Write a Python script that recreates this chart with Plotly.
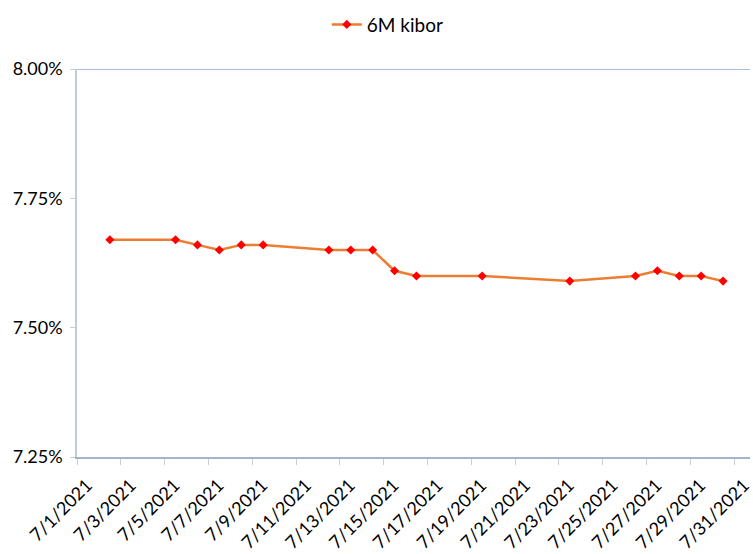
import pandas as pd
import plotly.graph_objects as go

dates = ["2021-07-02", "2021-07-05", "2021-07-06", "2021-07-07", "2021-07-08",
         "2021-07-09", "2021-07-12", "2021-07-13", "2021-07-14", "2021-07-15",
         "2021-07-16", "2021-07-19", "2021-07-23", "2021-07-26", "2021-07-27",
         "2021-07-28", "2021-07-29", "2021-07-30"]
kibor_6m = [7.67, 7.67, 7.66, 7.65, 7.66, 7.66, 7.65, 7.65, 7.65, 7.61,
            7.60, 7.60, 7.59, 7.60, 7.61, 7.60, 7.60, 7.59]
series_name = "6M kibor"
y_ticks = [7.25, 7.50, 7.75, 8.00]
y_tick_labels = ["7.25%", "7.50%", "7.75%", "8.00%"]

# Excel date axis: points sit in the middle of each day slot
x = pd.to_datetime(dates) + pd.Timedelta(hours=12)

fig = go.Figure()
fig.add_trace(go.Scatter(
    x=x, y=kibor_6m, name=series_name, mode="lines+markers",
    line=dict(color="#ED7D31", width=2.5),
    marker=dict(symbol="diamond", size=7, color="#FF0000"),
))

fig.add_shape(type="line", xref="paper", yref="y", x0=0, x1=1, y0=8.0, y1=8.0,
              line=dict(color="#8FAADC", width=1.5))

fig.update_layout(
    width=753, height=554,
    margin=dict(l=77, r=0, t=69, b=97),
    plot_bgcolor="white", paper_bgcolor="white",
    showlegend=True,
    legend=dict(orientation="h", x=0.515, xanchor="center", y=0.99, yanchor="top",
                xref="container", yref="container",
                font=dict(family="Lato", size=19, color="black")),
    font=dict(family="Lato", size=17, color="black"),
)

fig.update_xaxes(
    type="date",
    range=[pd.Timestamp("2021-07-01"), pd.Timestamp("2021-07-31") + pd.Timedelta(hours=17.5)],
    tick0="2021-07-01", dtick=2 * 86400000,
    tickformat="%-m/%-d/%Y", tickangle=-45,
    showgrid=False, showline=True, linecolor="#A5B3CE", linewidth=1.5,
    ticks="outside", ticklen=6, tickcolor="#C8CED8",
    tickfont=dict(size=18), zeroline=False,
    ticklabelshift=10, ticklabelstandoff=3, ticklabeloverflow="allow",
)
fig.update_yaxes(
    range=[7.25, 8.00], tickmode="array", tickvals=y_ticks, ticktext=y_tick_labels,
    showgrid=False, showline=True, linecolor="#C3CADA", linewidth=1.5,
    ticks="outside", ticklen=5, tickcolor="#C8CED8",
    tickfont=dict(size=18), zeroline=False,
    ticklabelstandoff=4,
)

fig.write_html("out.html")
